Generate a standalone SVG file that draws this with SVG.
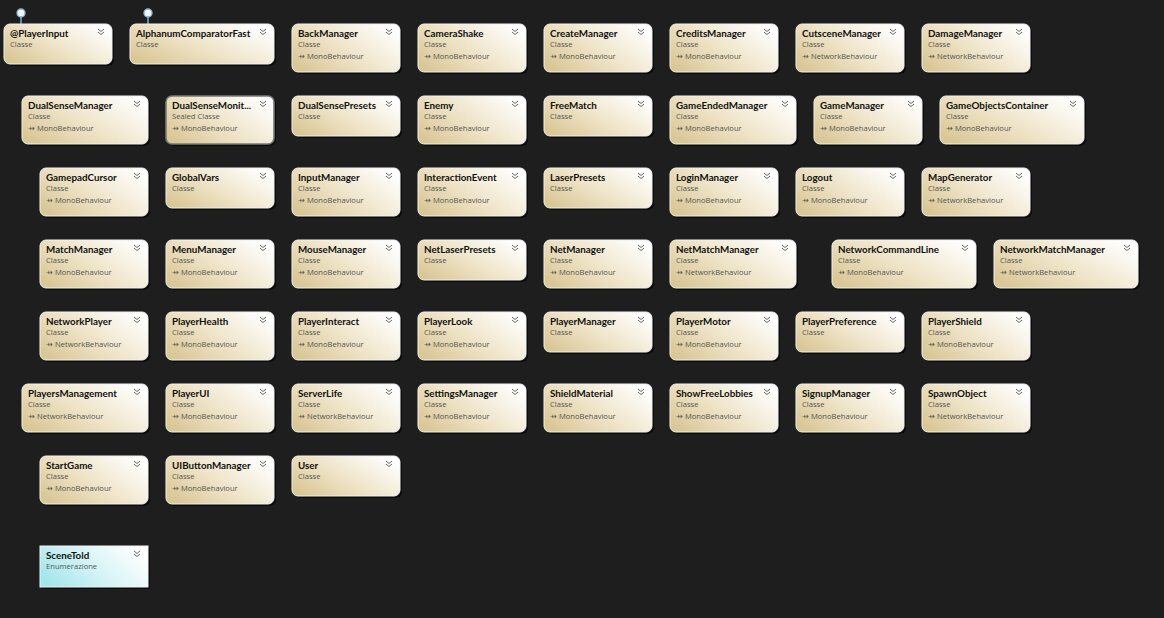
<svg xmlns="http://www.w3.org/2000/svg" xmlns:xlink="http://www.w3.org/1999/xlink" width="1164" height="618" viewBox="0 0 1164 618">
<style>
.sh{fill:#0c0c0c}
.bx{fill:url(#gc);stroke:#f2f2f2;stroke-width:1}
.sel{stroke:#7a7a7a;stroke-width:1.6}
.en{fill:url(#ge);stroke:#f2f2f2;stroke-width:1}
.t{font-family:Lato,"Open Sans",sans-serif;font-weight:bold;font-size:9.8px;fill:#111}
.s{font-family:"Open Sans","Noto Sans",sans-serif;font-size:7.6px;fill:#555}
.lp{fill:#f4f8fb;stroke:#8ab4d4;stroke-width:1.4}
.ll{stroke:#8ab4d4;stroke-width:1.4}
</style>
<defs>
<linearGradient id="gc" x1="0" y1="0.8" x2="1" y2="0.2">
<stop offset="0" stop-color="#d9c796"/>
<stop offset="0.45" stop-color="#eee3c6"/>
<stop offset="1" stop-color="#ffffff"/>
</linearGradient>
<linearGradient id="ge" x1="0" y1="0.7" x2="1" y2="0.3">
<stop offset="0" stop-color="#a4e6ec"/>
<stop offset="0.5" stop-color="#d6f4f6"/>
<stop offset="1" stop-color="#ffffff"/>
</linearGradient>
<symbol id="chev" overflow="visible"><path d="M0,0 L3,2.5 L6,0 M0,3 L3,5.5 L6,3" fill="none" stroke="#6a6a6a" stroke-width="1"/></symbol>
</defs>
<rect width="1164" height="618" fill="#1e1e1e"/>
<g id="connectors">
<line class="ll" x1="21" y1="17" x2="21" y2="24"/>
<line class="ll" x1="148" y1="17" x2="148" y2="24"/>
</g>
<g id="n-PlayerInput" transform="translate(4,24)"><rect class="sh" x="2" y="2" width="108" height="40" rx="6"/><rect class="bx" width="108" height="40" rx="6"/><text class="t" x="6" y="13">@PlayerInput</text><text class="s" x="6" y="23">Classe</text><use href="#chev" x="94" y="5"/><circle class="lp" cx="17" cy="-11" r="4"/></g>
<g id="n-AlphanumComparatorFast" transform="translate(130,24)"><rect class="sh" x="2" y="2" width="144" height="40" rx="6"/><rect class="bx" width="144" height="40" rx="6"/><text class="t" x="6" y="13">AlphanumComparatorFast</text><text class="s" x="6" y="23">Classe</text><use href="#chev" x="130" y="5"/><circle class="lp" cx="18" cy="-11" r="4"/></g>
<g id="n-BackManager" transform="translate(292,24)"><rect class="sh" x="2" y="2" width="108" height="48" rx="6"/><rect class="bx" width="108" height="48" rx="6"/><text class="t" x="6" y="13">BackManager</text><text class="s" x="6" y="23">Classe</text><text class="s" x="6" y="35">⇸ MonoBehaviour</text><use href="#chev" x="94" y="5"/></g>
<g id="n-CameraShake" transform="translate(418,24)"><rect class="sh" x="2" y="2" width="108" height="48" rx="6"/><rect class="bx" width="108" height="48" rx="6"/><text class="t" x="6" y="13">CameraShake</text><text class="s" x="6" y="23">Classe</text><text class="s" x="6" y="35">⇸ MonoBehaviour</text><use href="#chev" x="94" y="5"/></g>
<g id="n-CreateManager" transform="translate(544,24)"><rect class="sh" x="2" y="2" width="108" height="48" rx="6"/><rect class="bx" width="108" height="48" rx="6"/><text class="t" x="6" y="13">CreateManager</text><text class="s" x="6" y="23">Classe</text><text class="s" x="6" y="35">⇸ MonoBehaviour</text><use href="#chev" x="94" y="5"/></g>
<g id="n-CreditsManager" transform="translate(670,24)"><rect class="sh" x="2" y="2" width="108" height="48" rx="6"/><rect class="bx" width="108" height="48" rx="6"/><text class="t" x="6" y="13">CreditsManager</text><text class="s" x="6" y="23">Classe</text><text class="s" x="6" y="35">⇸ MonoBehaviour</text><use href="#chev" x="94" y="5"/></g>
<g id="n-CutsceneManager" transform="translate(796,24)"><rect class="sh" x="2" y="2" width="108" height="48" rx="6"/><rect class="bx" width="108" height="48" rx="6"/><text class="t" x="6" y="13">CutsceneManager</text><text class="s" x="6" y="23">Classe</text><text class="s" x="6" y="35">⇸ NetworkBehaviour</text><use href="#chev" x="94" y="5"/></g>
<g id="n-DamageManager" transform="translate(922,24)"><rect class="sh" x="2" y="2" width="108" height="48" rx="6"/><rect class="bx" width="108" height="48" rx="6"/><text class="t" x="6" y="13">DamageManager</text><text class="s" x="6" y="23">Classe</text><text class="s" x="6" y="35">⇸ NetworkBehaviour</text><use href="#chev" x="94" y="5"/></g>

<g id="n-DualSenseManager" transform="translate(22,96)"><rect class="sh" x="2" y="2" width="126" height="48" rx="6"/><rect class="bx" width="126" height="48" rx="6"/><text class="t" x="6" y="13">DualSenseManager</text><text class="s" x="6" y="23">Classe</text><text class="s" x="6" y="35">⇸ MonoBehaviour</text><use href="#chev" x="112" y="5"/></g>
<g id="n-DualSenseMonitor" transform="translate(166,96)"><rect class="sh" x="2" y="2" width="108" height="48" rx="6"/><rect class="bx sel" width="108" height="48" rx="6"/><text class="t" x="6" y="13">DualSenseMonit...</text><text class="s" x="6" y="23">Sealed Classe</text><text class="s" x="6" y="35">⇸ MonoBehaviour</text><use href="#chev" x="94" y="5"/></g>
<g id="n-DualSensePresets" transform="translate(292,96)"><rect class="sh" x="2" y="2" width="108" height="40" rx="6"/><rect class="bx" width="108" height="40" rx="6"/><text class="t" x="6" y="13">DualSensePresets</text><text class="s" x="6" y="23">Classe</text><use href="#chev" x="94" y="5"/></g>
<g id="n-Enemy" transform="translate(418,96)"><rect class="sh" x="2" y="2" width="108" height="48" rx="6"/><rect class="bx" width="108" height="48" rx="6"/><text class="t" x="6" y="13">Enemy</text><text class="s" x="6" y="23">Classe</text><text class="s" x="6" y="35">⇸ MonoBehaviour</text><use href="#chev" x="94" y="5"/></g>
<g id="n-FreeMatch" transform="translate(544,96)"><rect class="sh" x="2" y="2" width="108" height="40" rx="6"/><rect class="bx" width="108" height="40" rx="6"/><text class="t" x="6" y="13">FreeMatch</text><text class="s" x="6" y="23">Classe</text><use href="#chev" x="94" y="5"/></g>
<g id="n-GameEndedManager" transform="translate(670,96)"><rect class="sh" x="2" y="2" width="126" height="48" rx="6"/><rect class="bx" width="126" height="48" rx="6"/><text class="t" x="6" y="13">GameEndedManager</text><text class="s" x="6" y="23">Classe</text><text class="s" x="6" y="35">⇸ MonoBehaviour</text><use href="#chev" x="112" y="5"/></g>
<g id="n-GameManager" transform="translate(814,96)"><rect class="sh" x="2" y="2" width="108" height="48" rx="6"/><rect class="bx" width="108" height="48" rx="6"/><text class="t" x="6" y="13">GameManager</text><text class="s" x="6" y="23">Classe</text><text class="s" x="6" y="35">⇸ MonoBehaviour</text><use href="#chev" x="94" y="5"/></g>
<g id="n-GameObjectsContainer" transform="translate(940,96)"><rect class="sh" x="2" y="2" width="144" height="48" rx="6"/><rect class="bx" width="144" height="48" rx="6"/><text class="t" x="6" y="13">GameObjectsContainer</text><text class="s" x="6" y="23">Classe</text><text class="s" x="6" y="35">⇸ MonoBehaviour</text><use href="#chev" x="130" y="5"/></g>

<g id="n-GamepadCursor" transform="translate(40,168)"><rect class="sh" x="2" y="2" width="108" height="48" rx="6"/><rect class="bx" width="108" height="48" rx="6"/><text class="t" x="6" y="13">GamepadCursor</text><text class="s" x="6" y="23">Classe</text><text class="s" x="6" y="35">⇸ MonoBehaviour</text><use href="#chev" x="94" y="5"/></g>
<g id="n-GlobalVars" transform="translate(166,168)"><rect class="sh" x="2" y="2" width="108" height="40" rx="6"/><rect class="bx" width="108" height="40" rx="6"/><text class="t" x="6" y="13">GlobalVars</text><text class="s" x="6" y="23">Classe</text><use href="#chev" x="94" y="5"/></g>
<g id="n-InputManager" transform="translate(292,168)"><rect class="sh" x="2" y="2" width="108" height="48" rx="6"/><rect class="bx" width="108" height="48" rx="6"/><text class="t" x="6" y="13">InputManager</text><text class="s" x="6" y="23">Classe</text><text class="s" x="6" y="35">⇸ MonoBehaviour</text><use href="#chev" x="94" y="5"/></g>
<g id="n-InteractionEvent" transform="translate(418,168)"><rect class="sh" x="2" y="2" width="108" height="48" rx="6"/><rect class="bx" width="108" height="48" rx="6"/><text class="t" x="6" y="13">InteractionEvent</text><text class="s" x="6" y="23">Classe</text><text class="s" x="6" y="35">⇸ MonoBehaviour</text><use href="#chev" x="94" y="5"/></g>
<g id="n-LaserPresets" transform="translate(544,168)"><rect class="sh" x="2" y="2" width="108" height="40" rx="6"/><rect class="bx" width="108" height="40" rx="6"/><text class="t" x="6" y="13">LaserPresets</text><text class="s" x="6" y="23">Classe</text><use href="#chev" x="94" y="5"/></g>
<g id="n-LoginManager" transform="translate(670,168)"><rect class="sh" x="2" y="2" width="108" height="48" rx="6"/><rect class="bx" width="108" height="48" rx="6"/><text class="t" x="6" y="13">LoginManager</text><text class="s" x="6" y="23">Classe</text><text class="s" x="6" y="35">⇸ MonoBehaviour</text><use href="#chev" x="94" y="5"/></g>
<g id="n-Logout" transform="translate(796,168)"><rect class="sh" x="2" y="2" width="108" height="48" rx="6"/><rect class="bx" width="108" height="48" rx="6"/><text class="t" x="6" y="13">Logout</text><text class="s" x="6" y="23">Classe</text><text class="s" x="6" y="35">⇸ MonoBehaviour</text><use href="#chev" x="94" y="5"/></g>
<g id="n-MapGenerator" transform="translate(922,168)"><rect class="sh" x="2" y="2" width="108" height="48" rx="6"/><rect class="bx" width="108" height="48" rx="6"/><text class="t" x="6" y="13">MapGenerator</text><text class="s" x="6" y="23">Classe</text><text class="s" x="6" y="35">⇸ NetworkBehaviour</text><use href="#chev" x="94" y="5"/></g>

<g id="n-MatchManager" transform="translate(40,240)"><rect class="sh" x="2" y="2" width="108" height="48" rx="6"/><rect class="bx" width="108" height="48" rx="6"/><text class="t" x="6" y="13">MatchManager</text><text class="s" x="6" y="23">Classe</text><text class="s" x="6" y="35">⇸ MonoBehaviour</text><use href="#chev" x="94" y="5"/></g>
<g id="n-MenuManager" transform="translate(166,240)"><rect class="sh" x="2" y="2" width="108" height="48" rx="6"/><rect class="bx" width="108" height="48" rx="6"/><text class="t" x="6" y="13">MenuManager</text><text class="s" x="6" y="23">Classe</text><text class="s" x="6" y="35">⇸ MonoBehaviour</text><use href="#chev" x="94" y="5"/></g>
<g id="n-MouseManager" transform="translate(292,240)"><rect class="sh" x="2" y="2" width="108" height="48" rx="6"/><rect class="bx" width="108" height="48" rx="6"/><text class="t" x="6" y="13">MouseManager</text><text class="s" x="6" y="23">Classe</text><text class="s" x="6" y="35">⇸ MonoBehaviour</text><use href="#chev" x="94" y="5"/></g>
<g id="n-NetLaserPresets" transform="translate(418,240)"><rect class="sh" x="2" y="2" width="108" height="40" rx="6"/><rect class="bx" width="108" height="40" rx="6"/><text class="t" x="6" y="13">NetLaserPresets</text><text class="s" x="6" y="23">Classe</text><use href="#chev" x="94" y="5"/></g>
<g id="n-NetManager" transform="translate(544,240)"><rect class="sh" x="2" y="2" width="108" height="48" rx="6"/><rect class="bx" width="108" height="48" rx="6"/><text class="t" x="6" y="13">NetManager</text><text class="s" x="6" y="23">Classe</text><text class="s" x="6" y="35">⇸ MonoBehaviour</text><use href="#chev" x="94" y="5"/></g>
<g id="n-NetMatchManager" transform="translate(670,240)"><rect class="sh" x="2" y="2" width="126" height="48" rx="6"/><rect class="bx" width="126" height="48" rx="6"/><text class="t" x="6" y="13">NetMatchManager</text><text class="s" x="6" y="23">Classe</text><text class="s" x="6" y="35">⇸ NetworkBehaviour</text><use href="#chev" x="112" y="5"/></g>
<g id="n-NetworkCommandLine" transform="translate(832,240)"><rect class="sh" x="2" y="2" width="144" height="48" rx="6"/><rect class="bx" width="144" height="48" rx="6"/><text class="t" x="6" y="13">NetworkCommandLine</text><text class="s" x="6" y="23">Classe</text><text class="s" x="6" y="35">⇸ MonoBehaviour</text><use href="#chev" x="130" y="5"/></g>
<g id="n-NetworkMatchManager" transform="translate(994,240)"><rect class="sh" x="2" y="2" width="144" height="48" rx="6"/><rect class="bx" width="144" height="48" rx="6"/><text class="t" x="6" y="13">NetworkMatchManager</text><text class="s" x="6" y="23">Classe</text><text class="s" x="6" y="35">⇸ NetworkBehaviour</text><use href="#chev" x="130" y="5"/></g>

<g id="n-NetworkPlayer" transform="translate(40,312)"><rect class="sh" x="2" y="2" width="108" height="48" rx="6"/><rect class="bx" width="108" height="48" rx="6"/><text class="t" x="6" y="13">NetworkPlayer</text><text class="s" x="6" y="23">Classe</text><text class="s" x="6" y="35">⇸ NetworkBehaviour</text><use href="#chev" x="94" y="5"/></g>
<g id="n-PlayerHealth" transform="translate(166,312)"><rect class="sh" x="2" y="2" width="108" height="48" rx="6"/><rect class="bx" width="108" height="48" rx="6"/><text class="t" x="6" y="13">PlayerHealth</text><text class="s" x="6" y="23">Classe</text><text class="s" x="6" y="35">⇸ MonoBehaviour</text><use href="#chev" x="94" y="5"/></g>
<g id="n-PlayerInteract" transform="translate(292,312)"><rect class="sh" x="2" y="2" width="108" height="48" rx="6"/><rect class="bx" width="108" height="48" rx="6"/><text class="t" x="6" y="13">PlayerInteract</text><text class="s" x="6" y="23">Classe</text><text class="s" x="6" y="35">⇸ MonoBehaviour</text><use href="#chev" x="94" y="5"/></g>
<g id="n-PlayerLook" transform="translate(418,312)"><rect class="sh" x="2" y="2" width="108" height="48" rx="6"/><rect class="bx" width="108" height="48" rx="6"/><text class="t" x="6" y="13">PlayerLook</text><text class="s" x="6" y="23">Classe</text><text class="s" x="6" y="35">⇸ MonoBehaviour</text><use href="#chev" x="94" y="5"/></g>
<g id="n-PlayerManager" transform="translate(544,312)"><rect class="sh" x="2" y="2" width="108" height="40" rx="6"/><rect class="bx" width="108" height="40" rx="6"/><text class="t" x="6" y="13">PlayerManager</text><text class="s" x="6" y="23">Classe</text><use href="#chev" x="94" y="5"/></g>
<g id="n-PlayerMotor" transform="translate(670,312)"><rect class="sh" x="2" y="2" width="108" height="48" rx="6"/><rect class="bx" width="108" height="48" rx="6"/><text class="t" x="6" y="13">PlayerMotor</text><text class="s" x="6" y="23">Classe</text><text class="s" x="6" y="35">⇸ MonoBehaviour</text><use href="#chev" x="94" y="5"/></g>
<g id="n-PlayerPreference" transform="translate(796,312)"><rect class="sh" x="2" y="2" width="108" height="40" rx="6"/><rect class="bx" width="108" height="40" rx="6"/><text class="t" x="6" y="13">PlayerPreference</text><text class="s" x="6" y="23">Classe</text><use href="#chev" x="94" y="5"/></g>
<g id="n-PlayerShield" transform="translate(922,312)"><rect class="sh" x="2" y="2" width="108" height="48" rx="6"/><rect class="bx" width="108" height="48" rx="6"/><text class="t" x="6" y="13">PlayerShield</text><text class="s" x="6" y="23">Classe</text><text class="s" x="6" y="35">⇸ MonoBehaviour</text><use href="#chev" x="94" y="5"/></g>

<g id="n-PlayersManagement" transform="translate(22,384)"><rect class="sh" x="2" y="2" width="126" height="48" rx="6"/><rect class="bx" width="126" height="48" rx="6"/><text class="t" x="6" y="13">PlayersManagement</text><text class="s" x="6" y="23">Classe</text><text class="s" x="6" y="35">⇸ NetworkBehaviour</text><use href="#chev" x="112" y="5"/></g>
<g id="n-PlayerUI" transform="translate(166,384)"><rect class="sh" x="2" y="2" width="108" height="48" rx="6"/><rect class="bx" width="108" height="48" rx="6"/><text class="t" x="6" y="13">PlayerUI</text><text class="s" x="6" y="23">Classe</text><text class="s" x="6" y="35">⇸ MonoBehaviour</text><use href="#chev" x="94" y="5"/></g>
<g id="n-ServerLife" transform="translate(292,384)"><rect class="sh" x="2" y="2" width="108" height="48" rx="6"/><rect class="bx" width="108" height="48" rx="6"/><text class="t" x="6" y="13">ServerLife</text><text class="s" x="6" y="23">Classe</text><text class="s" x="6" y="35">⇸ NetworkBehaviour</text><use href="#chev" x="94" y="5"/></g>
<g id="n-SettingsManager" transform="translate(418,384)"><rect class="sh" x="2" y="2" width="108" height="48" rx="6"/><rect class="bx" width="108" height="48" rx="6"/><text class="t" x="6" y="13">SettingsManager</text><text class="s" x="6" y="23">Classe</text><text class="s" x="6" y="35">⇸ MonoBehaviour</text><use href="#chev" x="94" y="5"/></g>
<g id="n-ShieldMaterial" transform="translate(544,384)"><rect class="sh" x="2" y="2" width="108" height="48" rx="6"/><rect class="bx" width="108" height="48" rx="6"/><text class="t" x="6" y="13">ShieldMaterial</text><text class="s" x="6" y="23">Classe</text><text class="s" x="6" y="35">⇸ MonoBehaviour</text><use href="#chev" x="94" y="5"/></g>
<g id="n-ShowFreeLobbies" transform="translate(670,384)"><rect class="sh" x="2" y="2" width="108" height="48" rx="6"/><rect class="bx" width="108" height="48" rx="6"/><text class="t" x="6" y="13">ShowFreeLobbies</text><text class="s" x="6" y="23">Classe</text><text class="s" x="6" y="35">⇸ MonoBehaviour</text><use href="#chev" x="94" y="5"/></g>
<g id="n-SignupManager" transform="translate(796,384)"><rect class="sh" x="2" y="2" width="108" height="48" rx="6"/><rect class="bx" width="108" height="48" rx="6"/><text class="t" x="6" y="13">SignupManager</text><text class="s" x="6" y="23">Classe</text><text class="s" x="6" y="35">⇸ MonoBehaviour</text><use href="#chev" x="94" y="5"/></g>
<g id="n-SpawnObject" transform="translate(922,384)"><rect class="sh" x="2" y="2" width="108" height="48" rx="6"/><rect class="bx" width="108" height="48" rx="6"/><text class="t" x="6" y="13">SpawnObject</text><text class="s" x="6" y="23">Classe</text><text class="s" x="6" y="35">⇸ NetworkBehaviour</text><use href="#chev" x="94" y="5"/></g>

<g id="n-StartGame" transform="translate(40,456)"><rect class="sh" x="2" y="2" width="108" height="48" rx="6"/><rect class="bx" width="108" height="48" rx="6"/><text class="t" x="6" y="13">StartGame</text><text class="s" x="6" y="23">Classe</text><text class="s" x="6" y="35">⇸ MonoBehaviour</text><use href="#chev" x="94" y="5"/></g>
<g id="n-UIButtonManager" transform="translate(166,456)"><rect class="sh" x="2" y="2" width="108" height="48" rx="6"/><rect class="bx" width="108" height="48" rx="6"/><text class="t" x="6" y="13">UIButtonManager</text><text class="s" x="6" y="23">Classe</text><text class="s" x="6" y="35">⇸ MonoBehaviour</text><use href="#chev" x="94" y="5"/></g>
<g id="n-User" transform="translate(292,456)"><rect class="sh" x="2" y="2" width="108" height="40" rx="6"/><rect class="bx" width="108" height="40" rx="6"/><text class="t" x="6" y="13">User</text><text class="s" x="6" y="23">Classe</text><use href="#chev" x="94" y="5"/></g>

<g id="n-SceneTold" transform="translate(40,546)"><rect class="sh" x="2" y="2" width="108" height="41"/><rect class="en" width="108" height="41"/><text class="t" x="6" y="13">SceneTold</text><text class="s" x="6" y="23">Enumerazione</text><use href="#chev" x="94" y="5"/></g>
</svg>
